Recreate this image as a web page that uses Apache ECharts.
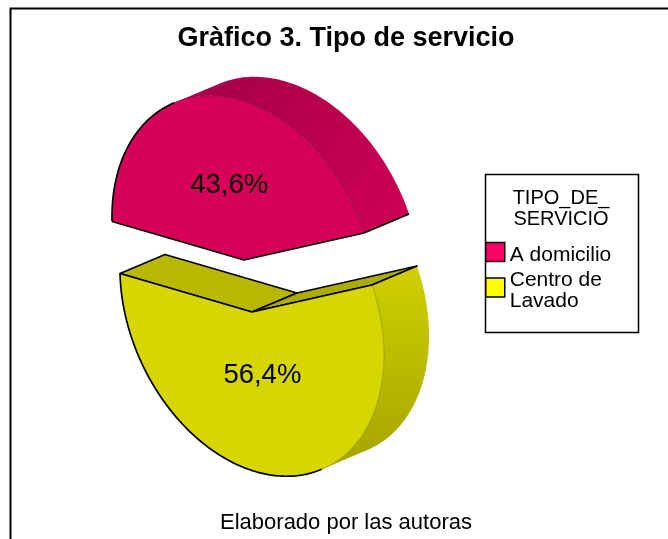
<!DOCTYPE html>
<html><head><meta charset="utf-8">
<style>html,body{margin:0;padding:0;background:#fff}#c{width:668px;height:539px}</style>
<script src="https://cdn.jsdelivr.net/npm/echarts@6/dist/echarts.min.js"></script>
</head><body><div id="c"></div>
<script>
const chartTitle = 'Gràfico 3. Tipo de servicio';
const chartNote = 'Elaborado por las autoras';
const legendTitle = 'TIPO_DE_\nSERVICIO';
const categories = ['A domicilio', 'Centro de\nLavado'];
const shares = [43.6, 56.4];
const shareLabels = ['43,6%', '56,4%'];
const faceColors = ['#D60058', '#D6D600'];
const legendColors = ['#FF0066', '#FFFF00'];

// Projection of the tilted disc
const apexes = [[244, 260], [252, 312]];
const axisA = [120, -27], axisB = [-55, -162], depth = [45, -19];
const labelRadius = [0.46, 0.38];
const sideGradients = [
  [[0, 0, 1, 1], '#A30046', '#CF0054'],
  [[0, 0, 0, 1], '#D0D000', '#A4A400']
];

const rad = d => d * Math.PI / 180;
const total = shares.reduce((a, b) => a + b, 0);
const onDisc = (apex, deg, k = 1) => [
  apex[0] + k * (axisA[0] * Math.cos(rad(deg)) + axisB[0] * Math.sin(rad(deg))),
  apex[1] + k * (axisA[1] * Math.cos(rad(deg)) + axisB[1] * Math.sin(rad(deg)))
];
const push = p => [p[0] + depth[0], p[1] + depth[1]];
const arc = (apex, a, b) => {
  const out = [], n = Math.max(2, Math.ceil(Math.abs(b - a)));
  for (let i = 0; i <= n; i++) out.push(onDisc(apex, a + (b - a) * i / n));
  return out;
};
const cross = (u, v) => u[0] * v[1] - u[1] * v[0];
let tangent = Math.atan2(cross(axisB, depth), cross(axisA, depth)) * 180 / Math.PI; // silhouette angle
tangent = ((tangent % 180) + 180) % 180;

function renderSlice(index, value) {
  let start = 0;
  for (let i = 0; i < index; i++) start += shares[i] / total * 360;
  const end = start + value / total * 360;
  const apex = apexes[index];
  const outer = arc(apex, start, end);
  const pR = onDisc(apex, start), pL = onDisc(apex, end);
  const children = [];
  const blk = { stroke: '#000', lineWidth: 1.7, fill: null, lineJoin: 'round' };
  // index 0: the visible curved wall runs start..split; index 1: split..end
  const split = tangent >= start && tangent <= end ? tangent : tangent + 180;
  const thin = index === 0 ? arc(apex, start, split) : arc(apex, split, end);
  const thick = index === 0 ? arc(apex, split, end) : arc(apex, start, split);
  const wedgeEnds = index === 0 ? [pR, pL] : [pL, pR];
  if (index === 1) {
    children.push({ type: 'polygon', shape: { points: [apex, wedgeEnds[1], push(wedgeEnds[1]), push(apex)] },
      style: { fill: '#B8B800', stroke: '#000', lineWidth: 1.7, lineJoin: 'round' } });
    children.push({ type: 'polygon', shape: { points: [apex, wedgeEnds[0], push(wedgeEnds[0]), push(apex)] },
      style: { fill: '#ABAB00', stroke: '#000', lineWidth: 1.7, lineJoin: 'round' } });
  }
  const g = sideGradients[index];
  children.push({
    type: 'polygon',
    shape: { points: thin.concat(thin.map(push).reverse()) },
    style: { fill: new echarts.graphic.LinearGradient(g[0][0], g[0][1], g[0][2], g[0][3],
      [{ offset: 0, color: g[1] }, { offset: 1, color: g[2] }]) }
  });
  children.push({
    type: 'polygon',
    shape: { points: [apex].concat(outer) },
    style: { fill: faceColors[index] }
  });
  children.push({ type: 'polyline', shape: { points: thin },
    style: { stroke: index === 0 ? '#8A0038' : '#8E8E00', lineWidth: 0.7, fill: null } });
  children.push({ type: 'polyline', shape: { points: thick }, style: blk });
  children.push({ type: 'polyline', shape: { points: [pL, apex, pR] }, style: blk });
  children.push({ type: 'polyline', shape: { points: [wedgeEnds[0], push(wedgeEnds[0])] }, style: blk });
  const lp = onDisc(apex, (start + end) / 2, labelRadius[index]);
  children.push({
    type: 'text',
    style: { text: shareLabels[index], x: lp[0] - 1, y: lp[1] + 1, align: 'center', verticalAlign: 'middle',
      fill: '#000', font: '27.5px "Liberation Sans"' }
  });
  return { type: 'group', children };
}

const chart = echarts.init(document.getElementById('c'), null, { renderer: 'canvas' });
chart.setOption({
  animation: false,
  backgroundColor: '#fff',
  title: [
    { text: chartTitle, left: 341, top: 34, textAlign: 'center', textVerticalAlign: 'middle',
      textStyle: { color: '#000', fontFamily: 'Liberation Sans', fontWeight: 'bold', fontSize: 27 } },
    { text: chartNote, left: 341, top: 518, textAlign: 'center', textVerticalAlign: 'middle',
      textStyle: { color: '#000', fontFamily: 'Liberation Sans', fontWeight: 'normal', fontSize: 22 } },
    { text: legendTitle, left: 556, top: 183, textAlign: 'center', textVerticalAlign: 'top',
      textStyle: { color: '#000', fontFamily: 'Liberation Sans', fontWeight: 'normal', fontSize: 20, lineHeight: 21 } }
  ],
  graphic: [
    { type: 'polyline', silent: true, shape: { points: [[10.5, 539], [10.5, 8.5], [668, 8.5]] },
      style: { stroke: '#000', lineWidth: 2, fill: null } },
    { type: 'rect', silent: true, shape: { x: 485.5, y: 174.5, width: 153, height: 158 },
      style: { stroke: '#000', lineWidth: 1.5, fill: '#fff' }, z: -1 }
  ],
  legend: {
    left: 485, top: 239.5, padding: 0, orient: 'vertical', selectedMode: false,
    icon: 'rect', itemWidth: 19, itemHeight: 19, itemGap: -1.5,
    formatter: name => '{gap| }\n' + name.split('\n').map(s => '{t|' + s + '}').join('\n'),
    textStyle: {
      color: '#000', fontFamily: 'Liberation Sans', fontSize: 21,
      rich: {
        gap: { fontSize: 4, lineHeight: 7 },
        t: { color: '#000', fontFamily: 'Liberation Sans', fontSize: 21, lineHeight: 21 }
      }
    },
    data: categories.map((name, i) => ({
      name, itemStyle: { color: legendColors[i], borderColor: '#000', borderWidth: 1.5 }
    }))
  },
  series: categories.map((name, i) => ({
    type: 'custom', name, coordinateSystem: 'none', silent: true,
    z: i === 0 ? 3 : 2,
    itemStyle: { color: legendColors[i] },
    data: [[shares[i]]],
    renderItem: (params, api) => renderSlice(i, api.value(0))
  }))
});
</script></body></html>
